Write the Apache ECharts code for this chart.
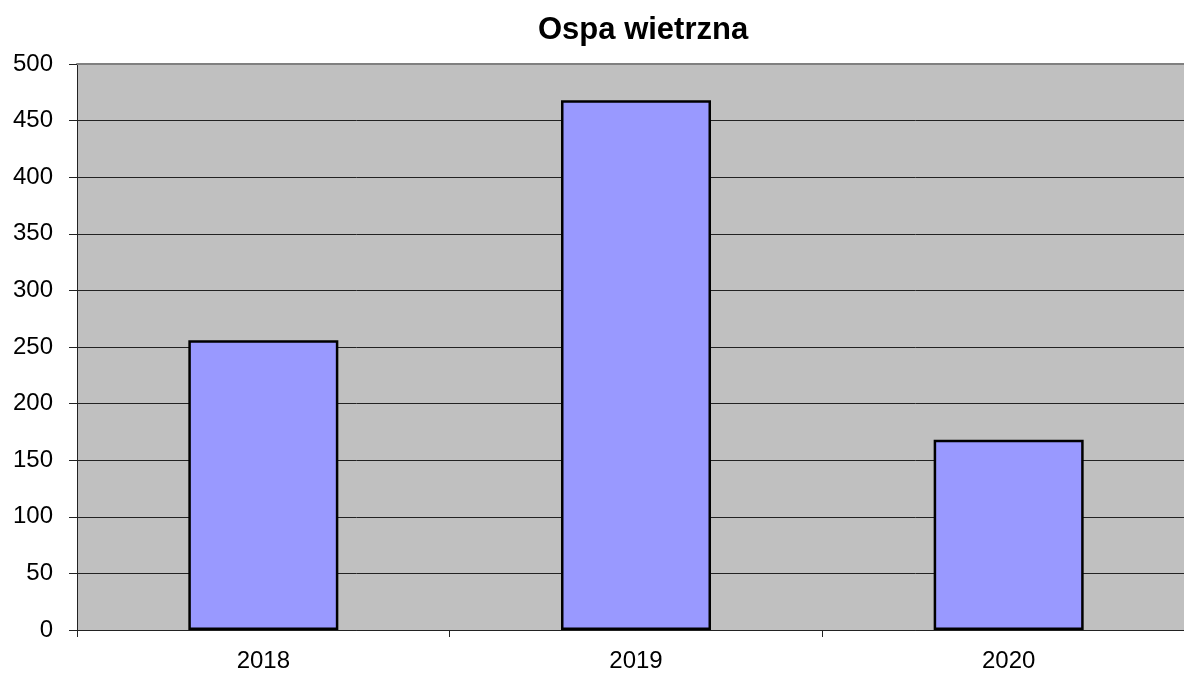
<!DOCTYPE html>
<html>
<head>
<meta charset="utf-8">
<script src="https://cdn.jsdelivr.net/npm/echarts@6/dist/echarts.min.js"></script>
<style>
  html, body { margin: 0; padding: 0; background: #fff; overflow: hidden; }
  /* plot area runs slightly past the right edge of the window, as in the original */
  #main { width: 1195px; height: 673px; }
</style>
</head>
<body>
<div id="main"></div>
<script>
var years = ['2018', '2019', '2020'];
var cases = [256, 468, 168];

var chart = echarts.init(document.getElementById('main'));

var font = '"Liberation Sans", Arial, sans-serif';

var option = {
    animation: false,
    backgroundColor: '#ffffff',
    title: {
        text: 'Ospa wietrzna',
        left: 533,
        top: 10,
        textStyle: { fontFamily: font, fontSize: 31, fontWeight: 'bold', color: '#000' }
    },
    grid: {
        left: 77, top: 64, right: 0, bottom: 41,
        show: true, backgroundColor: '#c0c0c0', borderWidth: 0
    },
    xAxis: [{
        type: 'category',
        data: years,
        axisLine: { lineStyle: { color: '#222', width: 1 } },
        axisTick: { show: true, length: 7, lineStyle: { color: '#222' } },
        axisLabel: { margin: 19, fontFamily: font, fontSize: 24, color: '#000' }
    }, {
        type: 'category',
        position: 'top',
        data: years,
        axisLine: { lineStyle: { color: '#808080', width: 2 } },
        axisTick: { show: false },
        axisLabel: { show: false }
    }],
    yAxis: {
        type: 'value',
        min: 0, max: 500, interval: 50,
        axisLine: { show: true, lineStyle: { color: '#222', width: 1 } },
        axisTick: { show: true, length: 8, lineStyle: { color: '#222' } },
        axisLabel: { margin: 24, fontFamily: font, fontSize: 24, color: '#000' },
        splitLine: { show: true, lineStyle: { color: '#222', width: 1 } }
    },
    series: [{
        type: 'bar',
        data: cases,
        barWidth: 150,
        itemStyle: { color: '#9999ff', borderColor: '#000', borderWidth: 2.5 }
    }]
};

chart.setOption(option);
</script>
</body>
</html>
